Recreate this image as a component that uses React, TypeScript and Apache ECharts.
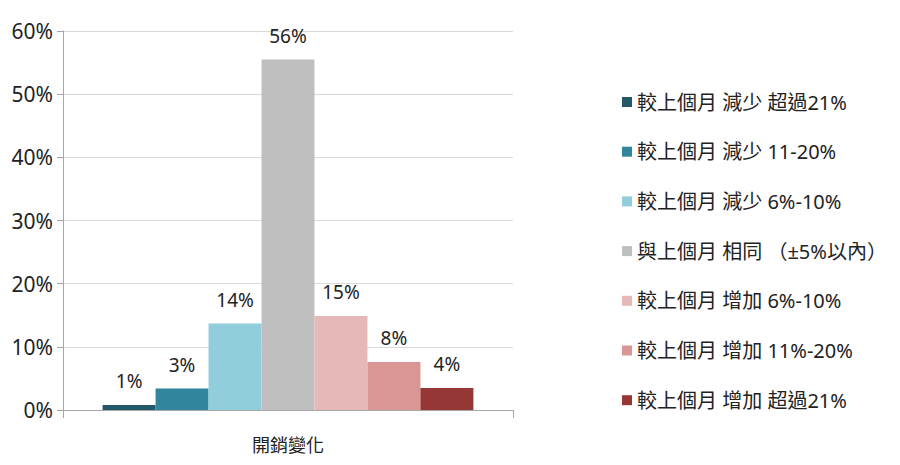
import React, { useEffect, useRef } from 'react';
import * as echarts from 'echarts';

const categories = ['開銷變化'];
const seriesNames = [
  '較上個月 減少 超過21%',
  '較上個月 減少 11-20%',
  '較上個月 減少 6%-10%',
  '與上個月 相同 （±5%以內）',
  '較上個月 增加 6%-10%',
  '較上個月 增加 11%-20%',
  '較上個月 增加 超過21%',
];
const seriesValues = [0.8, 3.4, 13.7, 55.5, 14.9, 7.6, 3.5];
const seriesColors = ['#215968', '#31859C', '#92CDDC', '#BFBFBF', '#E6B9B8', '#D99694', '#953735'];
const yTicks = [0, 10, 20, 30, 40, 50, 60];

const FONT = '"Noto Sans", "Noto Sans CJK TC", sans-serif';

const App: React.FC = () => {
  const chartRef = useRef<HTMLDivElement>(null);

  useEffect(() => {
    document.body.style.margin = '0';
    if (!chartRef.current) return;
    const chart = echarts.init(chartRef.current, undefined, { renderer: 'svg' });

    chart.setOption({
      animation: false,
      textStyle: { fontFamily: FONT },
      grid: { left: 63, right: 387, top: 31, bottom: 55 },
      legend: {
        orient: 'vertical',
        left: 617,
        top: 85,
        itemWidth: 10,
        itemHeight: 10,
        itemGap: 25.7,
        icon: 'rect',
        textStyle: { fontSize: 20, lineHeight: 24, color: '#222222', fontFamily: FONT },
        data: seriesNames,
      },
      xAxis: {
        type: 'category',
        data: categories,
        axisLine: { lineStyle: { color: '#A6A6A6' } },
        axisTick: { show: true, length: 8, lineStyle: { color: '#A6A6A6' } },
        axisLabel: { fontSize: 18, color: '#222222', margin: 26 },
      },
      yAxis: {
        type: 'value',
        min: yTicks[0],
        max: yTicks[yTicks.length - 1],
        interval: 10,
        axisLine: { show: true, lineStyle: { color: '#A6A6A6' } },
        axisTick: { show: true, length: 6, lineStyle: { color: '#A6A6A6' } },
        axisLabel: { fontSize: 21, color: '#222222', margin: 10, formatter: '{value}%' },
        splitLine: { lineStyle: { color: '#D9D9D9' } },
      },
      series: seriesNames.map((name, i) => ({
        name,
        type: 'bar',
        data: [seriesValues[i]],
        barGap: '0%',
        barCategoryGap: '17.6%',
        itemStyle: { color: seriesColors[i] },
        label: {
          show: true,
          position: 'top',
          distance: 14,
          fontSize: 19,
          color: '#222222',
          formatter: (p: any) => `${Math.round(p.value)}%`,
        },
      })),
    });

    return () => {
      chart.dispose();
    };
  }, []);

  return <div ref={chartRef} style={{ width: '900px', height: '465px' }} />;
};

export default App;
